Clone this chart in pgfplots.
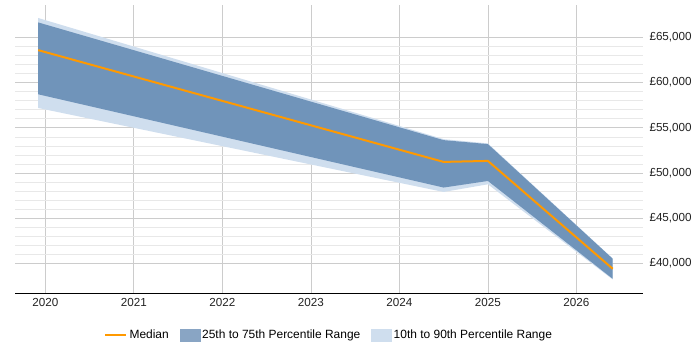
\documentclass[border=0pt]{standalone}
\usepackage{pgfplots}
\pgfplotsset{compat=1.18}
\usepackage{fontspec}
\setmainfont{Liberation Sans}

\definecolor{medorange}{RGB}{255,153,0}
\definecolor{iqrband}{RGB}{112,148,186}
\definecolor{iqrswatch}{RGB}{137,165,196}
\definecolor{decband}{RGB}{207,222,238}
\definecolor{majgrid}{RGB}{204,204,204}
\definecolor{mingrid}{RGB}{232,232,232}
\definecolor{ticktext}{RGB}{34,34,34}

\begin{document}
\begin{tikzpicture}
\useasboundingbox (0,0) rectangle (700bp,350bp);
\begin{axis}[
  at={(15bp,57bp)}, anchor=south west,
  scale only axis, width=628bp, height=288bp,
  xmin=2019.658, xmax=2026.752,
  ymin=36700, ymax=68600,
  axis x line*=bottom, axis y line*=right,
  x axis line style={black, line width=0.8pt, -},
  y axis line style={draw=none},
  xtick={2020,...,2026},
  xticklabel={\pgfmathprintnumber[assume math mode=true, set thousands separator={}]{\tick}},
  xticklabel style={font=\fontsize{11.7}{13}\selectfont, text=ticktext, yshift=-1.5bp},
  ytick={40000,45000,...,65000},
  scaled y ticks=false,
  minor y tick num=4,
  yticklabel={\textsterling\pgfmathprintnumber[assume math mode=true, 1000 sep={,}]{\tick}},
  yticklabel style={font=\fontsize{11.7}{13}\selectfont, text=ticktext, xshift=3bp},
  tick style={draw=none},
  xmajorgrids, ymajorgrids, yminorgrids,
  x grid style={majgrid, line width=0.6pt},
  major y grid style={majgrid, line width=0.6pt},
  minor y grid style={mingrid, line width=0.6pt},
  legend style={at={(0.5,-0.146)}, anchor=center, draw=none, fill=none,
    legend columns=3, font=\fontsize{12}{14}\selectfont,
    /tikz/every even column/.append style={column sep=9bp}},
  legend cell align=left,
]
% 10th to 90th percentile band: upper edge, then lower edge back
\addplot[fill=decband, draw=none, forget plot] coordinates {
  (2019.92,67160) (2024.50,53740) (2025.00,53270) (2026.41,40520)
  (2026.41,38190) (2025.00,48740) (2024.50,47890) (2019.92,57190)
} -- cycle;
% 25th to 75th percentile band
\addplot[fill=iqrband, draw=none, forget plot] coordinates {
  (2019.92,66670) (2024.50,53630) (2025.00,53190) (2026.41,40490)
  (2026.41,38270) (2025.00,49110) (2024.50,48380) (2019.92,58710)
} -- cycle;
% median
\addplot[medorange, line width=2bp, forget plot] coordinates {
  (2019.92,63600) (2024.50,51220) (2025.00,51330) (2026.41,39380)
};

% legend
\addlegendimage{legend image code/.code={\draw[medorange, line width=2.5bp] (0bp,0bp) -- (21bp,0bp);}}
\addlegendentry{Median}
\addlegendimage{legend image code/.code={\fill[iqrswatch] (0bp,-6bp) rectangle (20bp,6bp);}}
\addlegendentry{25th to 75th Percentile Range}
\addlegendimage{legend image code/.code={\fill[decband] (0bp,-6bp) rectangle (20bp,6bp);}}
\addlegendentry{10th to 90th Percentile Range}
\end{axis}
\end{tikzpicture}
\end{document}
